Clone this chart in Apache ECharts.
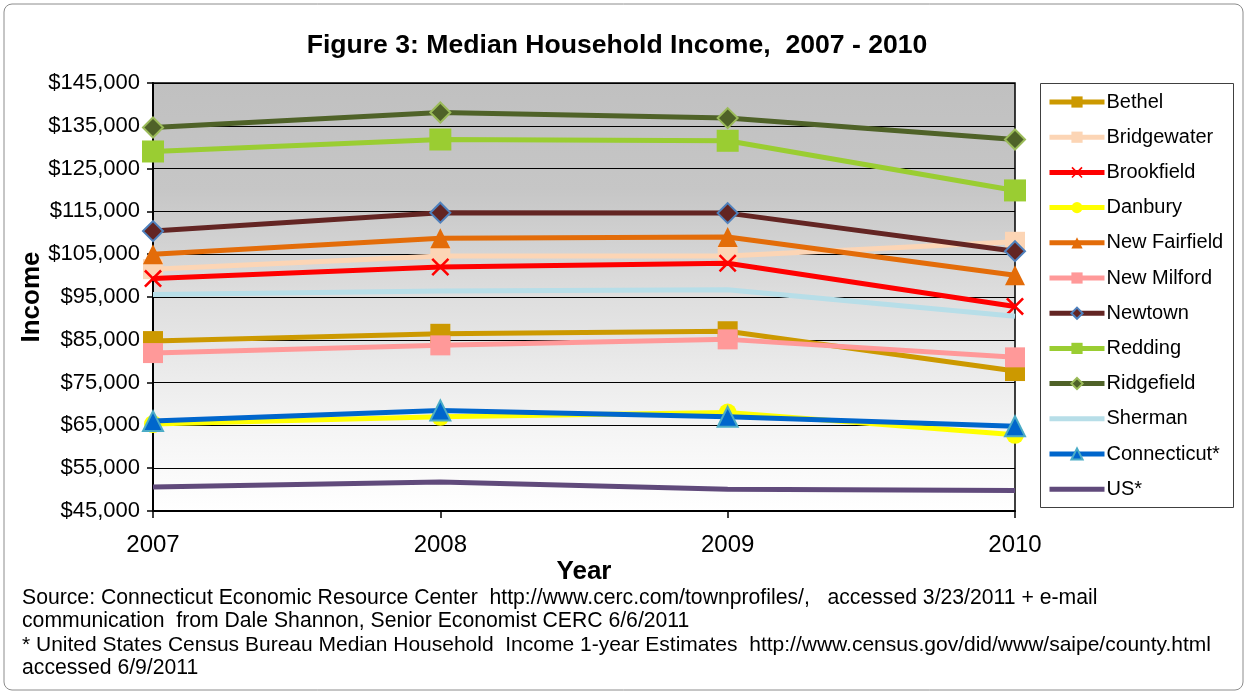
<!DOCTYPE html>
<html><head><meta charset="utf-8">
<script src="https://cdn.jsdelivr.net/npm/echarts@6/dist/echarts.min.js"></script>
<style>html,body{margin:0;padding:0;background:#fff}#c{width:1248px;height:696px}</style>
</head><body><div id="c"></div>
<script>
const years = ['2007', '2008', '2009', '2010'];
const yTicks = [45000, 145000, 10000];
const bethel = [84700, 86400, 87000, 77700];
const bridgewater = [101500, 104600, 104600, 107900];
const brookfield = [99300, 102000, 102900, 92800];
const danbury = [65300, 67000, 68000, 62800];
const newFairfield = [105000, 108700, 109000, 100100];
const newMilford = [81900, 83700, 85100, 80900];
const newtown = [110400, 114700, 114600, 105700];
const redding = [129000, 131800, 131500, 119900];
const ridgefield = [134600, 138100, 136800, 131800];
const sherman = [95600, 96400, 96700, 90500];
const connecticut = [66000, 68500, 67000, 64800];
const us = [50600, 51800, 50100, 49800];

const F = "'Liberation Sans', Arial, sans-serif";
const X_PATH = 'path://M0,1L1,0L5,4L9,0L10,1L6,5L10,9L9,10L5,6L1,10L0,9L4,5Z';
const LINE_ICON = 'path://M0,0H55V5H0Z';

function mk(name, data, color, symbol, size, border, bw) {
  return {
    name: name, type: 'line', data: data,
    symbol: symbol, symbolSize: size, showSymbol: symbol !== 'none',
    lineStyle: { color: color, width: 5 },
    itemStyle: { color: color, borderColor: border || color, borderWidth: bw || 0 },
    emphasis: { disabled: true }
  };
}

const series = [
  mk('Bethel', bethel, '#CC9900', 'rect', 20),
  mk('Bridgewater', bridgewater, '#FCD5B5', 'rect', 20),
  mk('Brookfield', brookfield, '#FF0000', X_PATH, 18),
  mk('Danbury', danbury, '#FFFF00', 'circle', 18),
  mk('New Fairfield', newFairfield, '#E36C09', 'triangle', 20),
  mk('New Milford', newMilford, '#FF9999', 'rect', 20),
  mk('Newtown', newtown, '#632523', 'diamond', 20, '#4F81BD', 2),
  mk('Redding', redding, '#9ACD32', 'rect', 22),
  mk('Ridgefield', ridgefield, '#4F6228', 'diamond', 20, '#9BBB59', 2),
  mk('Sherman', sherman, '#B7DEE8', 'none', 0),
  mk('Connecticut*', connecticut, '#0066CC', 'triangle', 20, '#4BACC6', 2),
  mk('US*', us, '#604A7B', 'none', 0)
];
series.forEach((s, i) => { s.z = 2 + i * 0.01; });

const legendData = series.map(s => s.symbol === 'none' ? { name: s.name, icon: LINE_ICON } : { name: s.name });

const chart = echarts.init(document.getElementById('c'), null, { renderer: 'canvas' });
chart.setOption({
  animation: false,
  backgroundColor: '#fff',
  title: {
    text: 'Figure 3: Median Household Income,  2007 - 2010',
    left: 612, top: 27, textAlign: 'center',
    textStyle: { fontFamily: F, fontSize: 26.6, fontWeight: 'bold', color: '#000' }
  },
  grid: {
    left: 153, right: 233, top: 83, bottom: 185,
    show: true, borderColor: '#000', borderWidth: 1.5,
    backgroundColor: {
      type: 'linear', x: 0, y: 0, x2: 0, y2: 1,
      colorStops: [
        { offset: 0, color: '#c0c0c0' },
        { offset: 0.25, color: '#c6c6c6' },
        { offset: 0.5, color: '#dedede' },
        { offset: 0.8, color: '#f4f4f4' },
        { offset: 1, color: '#ffffff' }
      ]
    }
  },
  legend: {
    orient: 'vertical', left: 1047, top: 92, padding: 0,
    itemWidth: 55, itemHeight: 14, itemGap: 15.2,
    lineStyle: { width: 5 },
    textStyle: { fontFamily: F, fontSize: 20, color: '#000', lineHeight: 20, padding: [0, 0, 0, -3] },
    data: legendData
  },
  xAxis: {
    type: 'category', data: years, boundaryGap: false,
    axisLine: { lineStyle: { color: '#000', width: 2 } },
    axisTick: { show: true, length: 7, lineStyle: { color: '#000', width: 1.5 } },
    axisLabel: { fontFamily: F, fontSize: 24, color: '#000', margin: 22 },
    name: 'Year', nameLocation: 'middle', nameGap: 48, nameMoveOverlap: false,
    nameTextStyle: { fontFamily: F, fontSize: 26, fontWeight: 'bold', color: '#000' }
  },
  yAxis: {
    type: 'value', min: yTicks[0], max: yTicks[1], interval: yTicks[2],
    axisLine: { show: true, lineStyle: { color: '#000', width: 2 } },
    axisTick: { show: true, length: 6, lineStyle: { color: '#000', width: 1.5 } },
    splitLine: { show: true, lineStyle: { color: '#000', width: 1 } },
    axisLabel: {
      fontFamily: F, fontSize: 22, color: '#000', margin: 13,
      formatter: v => '$' + v.toLocaleString('en-US')
    },
    name: 'Income', nameLocation: 'middle', nameGap: 108, nameMoveOverlap: false,
    nameTextStyle: { fontFamily: F, fontSize: 26, fontWeight: 'bold', color: '#000' }
  },
  graphic: [
    { type: 'rect', shape: { x: 4, y: 4, width: 1239, height: 686, r: 8 }, style: { fill: 'none', stroke: '#8c8c8c', lineWidth: 1 }, z: -1 },
    { type: 'rect', shape: { x: 1040.5, y: 83.5, width: 193, height: 424 }, style: { fill: 'none', stroke: '#404040', lineWidth: 1 }, z: 5 },
    { type: 'text', left: 22, top: 588, style: { text: 'Source: Connecticut Economic Resource Center  http://www.cerc.com/townprofiles/,   accessed 3/23/2011 + e-mail', font: '21.2px ' + F, fill: '#000' } },
    { type: 'text', left: 22, top: 611, style: { text: 'communication  from Dale Shannon, Senior Economist CERC 6/6/2011', font: '21.2px ' + F, fill: '#000' } },
    { type: 'text', left: 22, top: 635, style: { text: '* United States Census Bureau Median Household  Income 1-year Estimates  http://www.census.gov/did/www/saipe/county.html', font: '21px ' + F, fill: '#000' } },
    { type: 'text', left: 22, top: 658, style: { text: 'accessed 6/9/2011', font: '21.2px ' + F, fill: '#000' } }
  ],
  series: series
});
</script></body></html>
